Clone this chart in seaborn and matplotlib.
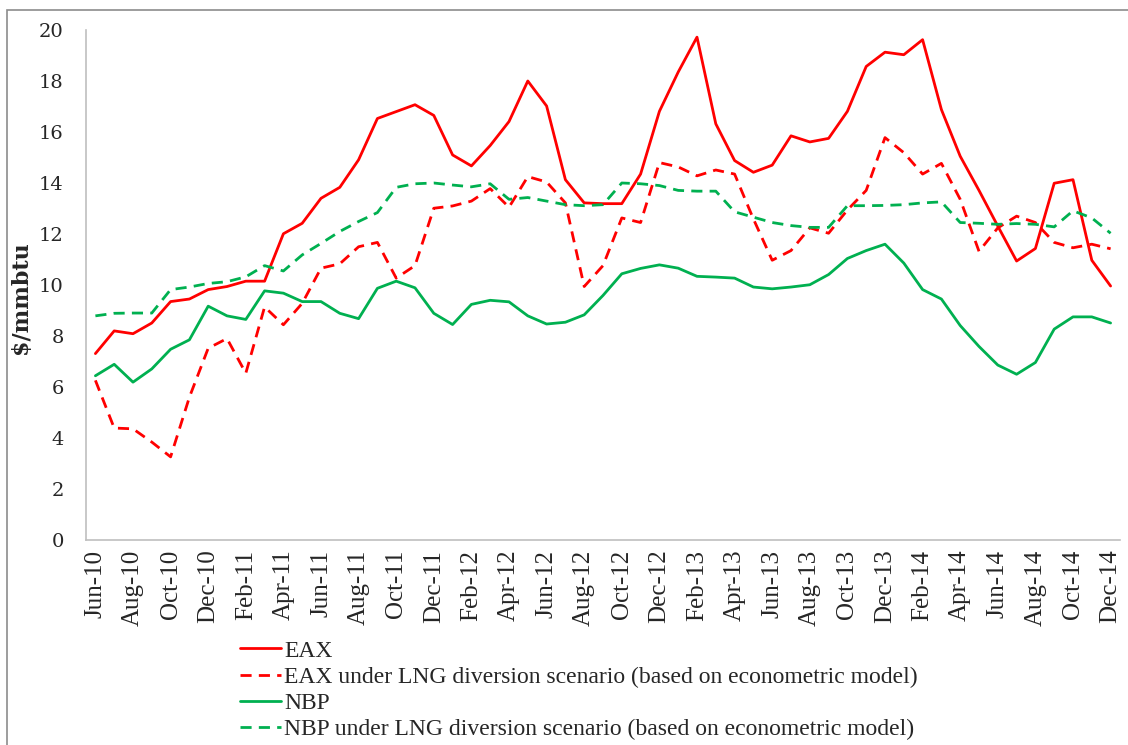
import pandas as pd
import matplotlib.pyplot as plt
import seaborn as sns
from matplotlib.patches import Rectangle

# monthly prices, Jun-10 .. Dec-14
months = pd.date_range('2010-06-01', '2014-12-01', freq='MS').strftime('%b-%y').tolist()

eax = [7.31, 8.2, 8.09, 8.51, 9.35, 9.45, 9.82, 9.94, 10.15, 10.15,
       12.01, 12.42, 13.4, 13.83, 14.91, 16.53, 16.8, 17.07, 16.65, 15.1,
       14.67, 15.47, 16.41, 18.0, 17.02, 14.13, 13.22, 13.19, 13.19, 14.35,
       16.81, 18.35, 19.72, 16.32, 14.88, 14.42, 14.7, 15.85, 15.61, 15.75,
       16.81, 18.57, 19.13, 19.03, 19.62, 16.88, 15.05, 13.71, 12.31, 10.94,
       11.43, 13.99, 14.13, 10.97, 9.96]
eax_lng = [6.26, 4.39, 4.36, 3.84, 3.26, 5.6, 7.52, 7.9, 6.54, 9.14,
           8.44, 9.28, 10.66, 10.83, 11.5, 11.67, 10.27, 10.76, 13.01, 13.1,
           13.29, 13.78, 13.05, 14.25, 14.04, 13.22, 9.94, 10.76, 12.63, 12.45,
           14.8, 14.63, 14.28, 14.51, 14.35, 12.59, 10.97, 11.35, 12.24, 12.03,
           12.94, 13.71, 15.78, 15.19, 14.35, 14.77, 13.36, 11.32, 12.24, 12.7,
           12.45, 11.67, 11.46, 11.6, 11.42]
nbp = [6.44, 6.89, 6.19, 6.71, 7.48, 7.85, 9.17, 8.79, 8.65, 9.77,
       9.68, 9.35, 9.35, 8.89, 8.68, 9.87, 10.15, 9.89, 8.89, 8.45,
       9.24, 9.4, 9.34, 8.79, 8.47, 8.54, 8.83, 9.59, 10.44, 10.65,
       10.79, 10.66, 10.34, 10.31, 10.27, 9.92, 9.85, 9.92, 10.01, 10.41,
       11.04, 11.35, 11.6, 10.86, 9.82, 9.45, 8.41, 7.59, 6.86, 6.5,
       6.96, 8.27, 8.75, 8.75, 8.51]
nbp_lng = [8.79, 8.89, 8.9, 8.9, 9.82, 9.92, 10.06, 10.13, 10.32, 10.76,
           10.55, 11.18, 11.63, 12.1, 12.49, 12.84, 13.83, 13.97, 14.0, 13.92,
           13.85, 13.97, 13.36, 13.43, 13.29, 13.15, 13.11, 13.15, 14.0, 13.97,
           13.9, 13.71, 13.68, 13.68, 12.87, 12.66, 12.45, 12.33, 12.26, 12.26,
           13.11, 13.11, 13.12, 13.15, 13.22, 13.26, 12.45, 12.42, 12.38, 12.41,
           12.38, 12.28, 12.91, 12.63, 12.03]

labels = ['EAX',
          'EAX under LNG diversion scenario (based on econometric model)',
          'NBP',
          'NBP under LNG diversion scenario (based on econometric model)']

rows = []
for name, vals in zip(labels, [eax, eax_lng, nbp, nbp_lng]):
    for i, v in enumerate(vals):
        rows.append({'idx': i, 'price': v, 'series': name})
df = pd.DataFrame(rows)

sns.set_style('white')
plt.rcParams['font.family'] = ['DejaVu Serif']
times = 'Liberation Serif'

red = '#FF0000'
green = '#00B050'
palette = {labels[0]: red, labels[1]: red, labels[2]: green, labels[3]: green}
dashes = {labels[0]: '', labels[1]: (4, 2.6), labels[2]: '', labels[3]: (4, 2.6)}

fig = plt.figure(figsize=(11.28, 7.45), dpi=100)
ax = fig.add_axes([86 / 1128, 1 - 540 / 745, (1120 - 86) / 1128, 510 / 745])

sns.lineplot(data=df, x='idx', y='price', hue='series', style='series',
             palette=palette, dashes=dashes, linewidth=2.0, ax=ax)

ax.set_xlim(-0.5, 54.5)
ax.set_ylim(0, 20)
ax.set_yticks(range(0, 21, 2))
ax.set_yticklabels([str(v) for v in range(0, 21, 2)], fontsize=14)
ax.set_xticks(range(0, 55, 2))
ax.set_xticklabels(months[::2], rotation=90, fontsize=18, family=times)
ax.set_xticks([i - 0.5 for i in range(0, 56, 2)], minor=True)
ax.tick_params(axis='x', which='major', length=0, pad=7)
ax.tick_params(axis='x', which='minor', length=6, color='#bfbfbf', direction='out')
ax.tick_params(axis='y', length=7, color='#bfbfbf', direction='out', pad=9)
ax.set_xlabel('')
ax.set_ylabel('$/mmbtu', fontsize=16, fontweight='bold')
ax.yaxis.set_label_coords(-0.052, 0.476)

for s in ['top', 'right']:
    ax.spines[s].set_visible(False)
for s in ['left', 'bottom']:
    ax.spines[s].set_color('#bfbfbf')
    ax.spines[s].set_linewidth(1.2)

handles, _ = ax.get_legend_handles_labels()
ax.legend(handles, labels, loc='upper left', bbox_to_anchor=(240 / 1128, 1 - 640 / 745),
          bbox_transform=fig.transFigure, frameon=False, prop={'family': times, 'size': 17},
          handlelength=1.75, handletextpad=0.12, labelspacing=0.2,
          borderpad=0, borderaxespad=0)

fig.patches.append(Rectangle((7 / 1128, -0.1), 1.2, 1.1 - 10 / 745,
                             transform=fig.transFigure, fill=False,
                             edgecolor='#8c8c8c', linewidth=1.2))

fig.savefig('out.png', dpi=100)
